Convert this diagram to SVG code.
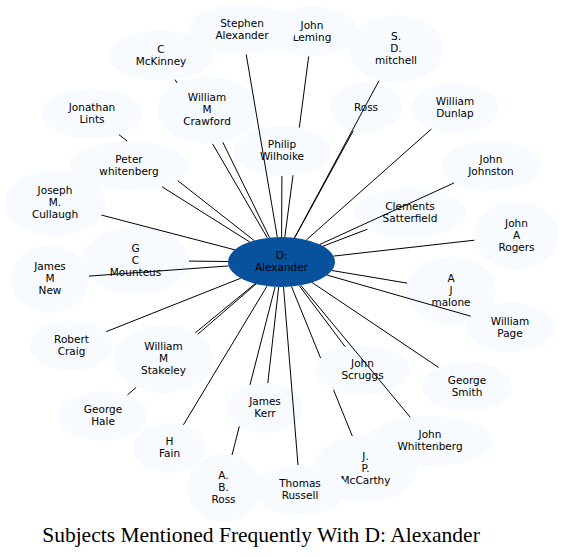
<svg xmlns="http://www.w3.org/2000/svg" width="564" height="557" viewBox="0 0 564 557">
<style>
.n ellipse{fill:#f7fbff;stroke:none}
.n text{font-family:"DejaVu Sans",sans-serif;font-size:10.5px;fill:#000;text-anchor:middle}
#c ellipse{fill:#08519c}
.e line{stroke:#000;stroke-width:1;fill:none}
.t{font-family:"Liberation Serif",serif;font-size:21.5px;fill:#000;text-anchor:middle}
</style>
<rect width="564" height="557" fill="#fff"/>
<g id="n-leming" class="n"><ellipse cx="312" cy="31.5" rx="46" ry="25"/><text><tspan x="312" y="28.5">John</tspan><tspan x="312" y="40.5">Leming</tspan></text></g>
<g id="n-stephen" class="n"><ellipse cx="242" cy="29.5" rx="54" ry="25"/><text><tspan x="242" y="26.5">Stephen</tspan><tspan x="242" y="38.5">Alexander</tspan></text></g>
<g id="n-mitchell" class="n"><ellipse cx="396" cy="49" rx="47" ry="34"/><text><tspan x="396" y="40">S.</tspan><tspan x="396" y="52">D.</tspan><tspan x="396" y="64">mitchell</tspan></text></g>
<g id="n-ross" class="n"><ellipse cx="366" cy="107.5" rx="36" ry="25"/><text x="366" y="110.5">Ross</text></g>
<g id="n-dunlap" class="n"><ellipse cx="455" cy="108" rx="44" ry="25"/><text><tspan x="455" y="105">William</tspan><tspan x="455" y="117">Dunlap</tspan></text></g>
<g id="n-johnston" class="n"><ellipse cx="491" cy="166" rx="50" ry="25"/><text><tspan x="491" y="163">John</tspan><tspan x="491" y="175">Johnston</tspan></text></g>
<g id="n-wilhoike" class="n"><ellipse cx="282" cy="151" rx="49" ry="25"/><text><tspan x="282" y="148">Philip</tspan><tspan x="282" y="160">Wilhoike</tspan></text></g>
<g id="n-mckinney" class="n"><ellipse cx="161" cy="55.5" rx="53" ry="25"/><text><tspan x="161" y="52.5">C</tspan><tspan x="161" y="64.5">McKinney</tspan></text></g>
<g id="n-crawford" class="n"><ellipse cx="207" cy="110" rx="50" ry="34"/><text><tspan x="207" y="101">William</tspan><tspan x="207" y="113">M</tspan><tspan x="207" y="125">Crawford</tspan></text></g>
<g id="n-lints" class="n"><ellipse cx="92" cy="113.5" rx="50" ry="25"/><text><tspan x="92" y="110.5">Jonathan</tspan><tspan x="92" y="122.5">Lints</tspan></text></g>
<g id="n-peter" class="n"><ellipse cx="129" cy="166" rx="60" ry="25"/><text><tspan x="129" y="163">Peter</tspan><tspan x="129" y="175">whitenberg</tspan></text></g>
<g id="n-cullaugh" class="n"><ellipse cx="55" cy="203" rx="50" ry="33"/><text><tspan x="55" y="194">Joseph</tspan><tspan x="55" y="206">M.</tspan><tspan x="55" y="218">Cullaugh</tspan></text></g>
<g id="n-mounteus" class="n"><ellipse cx="135.5" cy="260.5" rx="53.5" ry="34"/><text><tspan x="135.5" y="251.5">G</tspan><tspan x="135.5" y="263.5">C</tspan><tspan x="135.5" y="275.5">Mounteus</tspan></text></g>
<g id="n-new" class="n"><ellipse cx="50" cy="279" rx="39" ry="34"/><text><tspan x="50" y="270">James</tspan><tspan x="50" y="282">M</tspan><tspan x="50" y="294">New</tspan></text></g>
<g id="n-craig" class="n"><ellipse cx="71.5" cy="345.5" rx="41.5" ry="25"/><text><tspan x="71.5" y="342.5">Robert</tspan><tspan x="71.5" y="354.5">Craig</tspan></text></g>
<g id="n-stakeley" class="n"><ellipse cx="163.5" cy="359" rx="49.5" ry="34"/><text><tspan x="163.5" y="350">William</tspan><tspan x="163.5" y="362">M</tspan><tspan x="163.5" y="374">Stakeley</tspan></text></g>
<g id="n-hale" class="n"><ellipse cx="103" cy="416" rx="45" ry="25"/><text><tspan x="103" y="413">George</tspan><tspan x="103" y="425">Hale</tspan></text></g>
<g id="n-fain" class="n"><ellipse cx="169.5" cy="448" rx="36.5" ry="25"/><text><tspan x="169.5" y="445">H</tspan><tspan x="169.5" y="457">Fain</tspan></text></g>
<g id="n-abross" class="n"><ellipse cx="223.5" cy="488" rx="36" ry="34"/><text><tspan x="223.5" y="479">A.</tspan><tspan x="223.5" y="491">B.</tspan><tspan x="223.5" y="503">Ross</tspan></text></g>
<g id="n-kerr" class="n"><ellipse cx="265" cy="408" rx="38" ry="25"/><text><tspan x="265" y="405">James</tspan><tspan x="265" y="417">Kerr</tspan></text></g>
<g id="n-mccarthy" class="n"><ellipse cx="365.5" cy="468.5" rx="51.5" ry="33.5"/><text><tspan x="365.5" y="459.5">J.</tspan><tspan x="365.5" y="471.5">P.</tspan><tspan x="365.5" y="483.5">McCarthy</tspan></text></g>
<g id="n-russell" class="n"><ellipse cx="300" cy="490" rx="47.5" ry="25"/><text><tspan x="300" y="487">Thomas</tspan><tspan x="300" y="499">Russell</tspan></text></g>
<g id="n-whittenberg" class="n"><ellipse cx="430" cy="441" rx="63" ry="25"/><text><tspan x="430" y="438">John</tspan><tspan x="430" y="450">Whittenberg</tspan></text></g>
<g id="n-scruggs" class="n"><ellipse cx="362.5" cy="370" rx="47.5" ry="25"/><text><tspan x="362.5" y="367">John</tspan><tspan x="362.5" y="379">Scruggs</tspan></text></g>
<g id="n-smith" class="n"><ellipse cx="467" cy="386.5" rx="45" ry="24.5"/><text><tspan x="467" y="383.5">George</tspan><tspan x="467" y="395.5">Smith</tspan></text></g>
<g id="n-page" class="n"><ellipse cx="510" cy="327.5" rx="44" ry="25"/><text><tspan x="510" y="324.5">William</tspan><tspan x="510" y="336.5">Page</tspan></text></g>
<g id="n-malone" class="n"><ellipse cx="451" cy="290.5" rx="45" ry="34"/><text><tspan x="451" y="281.5">A</tspan><tspan x="451" y="293.5">J</tspan><tspan x="451" y="305.5">malone</tspan></text></g>
<g id="n-rogers" class="n"><ellipse cx="516.5" cy="235.5" rx="42.5" ry="34"/><text><tspan x="516.5" y="226.5">John</tspan><tspan x="516.5" y="238.5">A</tspan><tspan x="516.5" y="250.5">Rogers</tspan></text></g>
<g id="n-satterfield" class="n"><ellipse cx="410" cy="213" rx="56" ry="25"/><text><tspan x="410" y="210">Clements</tspan><tspan x="410" y="222">Satterfield</tspan></text></g>
<g id="c" class="n"><ellipse cx="281.5" cy="262" rx="53.5" ry="25"/><text><tspan x="281.5" y="259">D:</tspan><tspan x="281.5" y="271">Alexander</tspan></text></g>
<g id="edges" class="e">
<line x1="246.2" y1="54.4" x2="277.3" y2="237.1"/>
<line x1="308.7" y1="56.4" x2="299.3" y2="127.6"/>
<line x1="293.0" y1="175.3" x2="284.8" y2="237.0"/>
<line x1="379.0" y1="80.7" x2="294.5" y2="237.8"/>
<line x1="353.2" y1="130.9" x2="294.7" y2="237.8"/>
<line x1="431.3" y1="129.1" x2="306.4" y2="239.9"/>
<line x1="454.1" y1="182.9" x2="319.7" y2="244.5"/>
<line x1="281.9" y1="176.0" x2="281.6" y2="237.0"/>
<line x1="175.1" y1="79.6" x2="177.0" y2="82.9"/>
<line x1="212.6" y1="143.9" x2="267.4" y2="237.9"/>
<line x1="222.8" y1="142.3" x2="269.6" y2="237.6"/>
<line x1="118.9" y1="134.6" x2="127.2" y2="141.0"/>
<line x1="177.7" y1="180.6" x2="254.1" y2="240.5"/>
<line x1="162.1" y1="186.8" x2="249.6" y2="241.9"/>
<line x1="101.5" y1="215.1" x2="234.8" y2="249.8"/>
<line x1="189.0" y1="261.1" x2="228.0" y2="261.5"/>
<line x1="88.9" y1="276.1" x2="228.6" y2="265.9"/>
<line x1="106.1" y1="331.7" x2="240.8" y2="278.2"/>
<line x1="195.2" y1="332.9" x2="255.1" y2="283.7"/>
<line x1="127.4" y1="395.0" x2="136.2" y2="387.4"/>
<line x1="197.6" y1="334.4" x2="256.0" y2="284.0"/>
<line x1="183.4" y1="424.9" x2="267.0" y2="286.1"/>
<line x1="232.0" y1="455.0" x2="239.3" y2="426.4"/>
<line x1="250.0" y1="384.9" x2="275.1" y2="286.8"/>
<line x1="267.8" y1="383.1" x2="278.7" y2="287.0"/>
<line x1="298.0" y1="465.0" x2="283.5" y2="287.0"/>
<line x1="352.3" y1="436.1" x2="333.5" y2="389.8"/>
<line x1="320.6" y1="358.1" x2="291.5" y2="286.6"/>
<line x1="410.3" y1="417.3" x2="300.8" y2="285.3"/>
<line x1="345.1" y1="346.7" x2="299.2" y2="285.6"/>
<line x1="438.7" y1="367.5" x2="312.1" y2="282.5"/>
<line x1="470.7" y1="316.2" x2="327.1" y2="275.1"/>
<line x1="407.1" y1="283.1" x2="331.8" y2="270.5"/>
<line x1="474.4" y1="240.2" x2="333.5" y2="256.1"/>
<line x1="367.4" y1="229.2" x2="323.0" y2="246.2"/>
</g>
<text class="t" x="261" y="542">Subjects Mentioned Frequently With D: Alexander</text>
</svg>
